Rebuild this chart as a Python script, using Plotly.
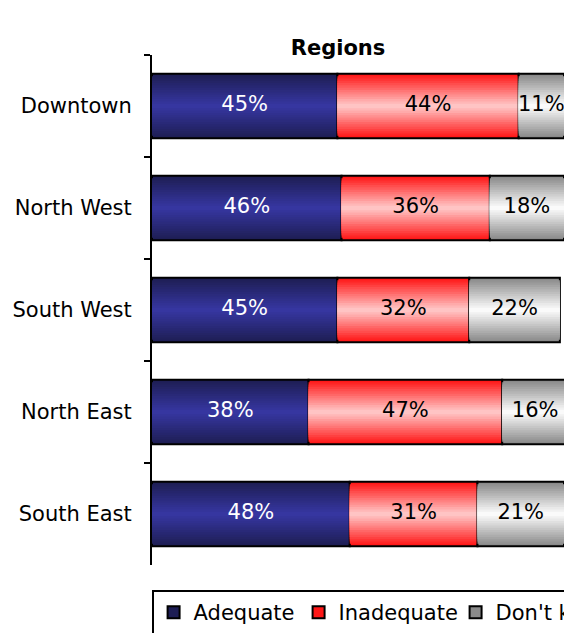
import plotly.graph_objects as go
import numpy as np

regions = ["Downtown", "North West", "South West", "North East", "South East"]
adequate = [45, 46, 45, 38, 48]
inadequate = [44, 36, 32, 47, 31]
dont_know = [11, 18, 22, 16, 21]

series_names = ["Adequate", "Inadequate", "Don't know"]
series_values = [adequate, inadequate, dont_know]
edge_colors = [(0x1e, 0x1e, 0x55), (0xff, 0x18, 0x18), (0x8a, 0x8a, 0x8a)]
center_colors = [(0x36, 0x36, 0xa0), (0xff, 0xc4, 0xc4), (0xfa, 0xfa, 0xfa)]
text_colors = ["white", "black", "black"]
legend_widths = [100, 112, None]

FONT = "DejaVu Sans"
BAR_W = 0.63
N_LAYERS = 14

fig = go.Figure()

bases = np.zeros(len(regions))
for name, vals, ec, cc, tc, lw in zip(series_names, series_values, edge_colors,
                                      center_colors, text_colors, legend_widths):
    vals = np.array(vals, dtype=float)
    for k in range(N_LAYERS):
        t = k / (N_LAYERS - 1)
        col = tuple(int(round(ec[i] + (cc[i] - ec[i]) * t)) for i in range(3))
        w = BAR_W * (1 - k / N_LAYERS) if k > 0 else BAR_W
        bar = go.Bar(
            y=regions, x=vals, base=bases, orientation="h",
            width=w,
            marker=dict(color="rgb(%d,%d,%d)" % col,
                        line=dict(color="black", width=2 if k == 0 else 0)),
            name=name, legendgroup=name, showlegend=(k == 0),
            hoverinfo="skip",
        )
        if k == 0 and lw is not None:
            bar.legendwidth = lw
        fig.add_trace(bar)
    fig.add_trace(go.Scatter(
        y=regions, x=bases + vals / 2, mode="text",
        text=["%d%%" % v for v in vals],
        textfont=dict(family=FONT, size=21, color=tc),
        showlegend=False, hoverinfo="skip", cliponaxis=False,
    ))
    bases = bases + vals

fig.update_layout(
    width=564, height=633,
    margin=dict(l=152, r=0, t=55, b=68, autoexpand=False),
    barmode="overlay",
    paper_bgcolor="white", plot_bgcolor="white",
    font=dict(family=FONT, size=21, color="black"),
    title=dict(text="<b>Regions</b>", x=338 / 564, xref="container", xanchor="center",
               y=1 - 48 / 633, yanchor="middle", font=dict(family=FONT, size=21)),
    xaxis=dict(range=[0, 100], visible=False, fixedrange=True),
    yaxis=dict(categoryorder="array", categoryarray=regions, autorange="reversed",
               showline=True, linecolor="black", linewidth=2,
               ticks="outside", tickson="boundaries", ticklen=6, tickwidth=2, tickcolor="black",
               showgrid=False, zeroline=False, ticklabelstandoff=14,
               tickfont=dict(family=FONT, size=21)),
    legend=dict(orientation="h", x=-0.001, xanchor="left", y=-(590 - 565) / 510, yanchor="top",
                bordercolor="black", borderwidth=2, bgcolor="white",
                font=dict(family=FONT, size=21), itemwidth=30, traceorder="normal"),
    showlegend=True,
)

fig.write_html(
    "out.html",
    config={"displayModeBar": False},
    post_script="document.body.style.margin='0';document.body.style.overflow='hidden';"
                "document.documentElement.style.overflow='hidden';",
)
